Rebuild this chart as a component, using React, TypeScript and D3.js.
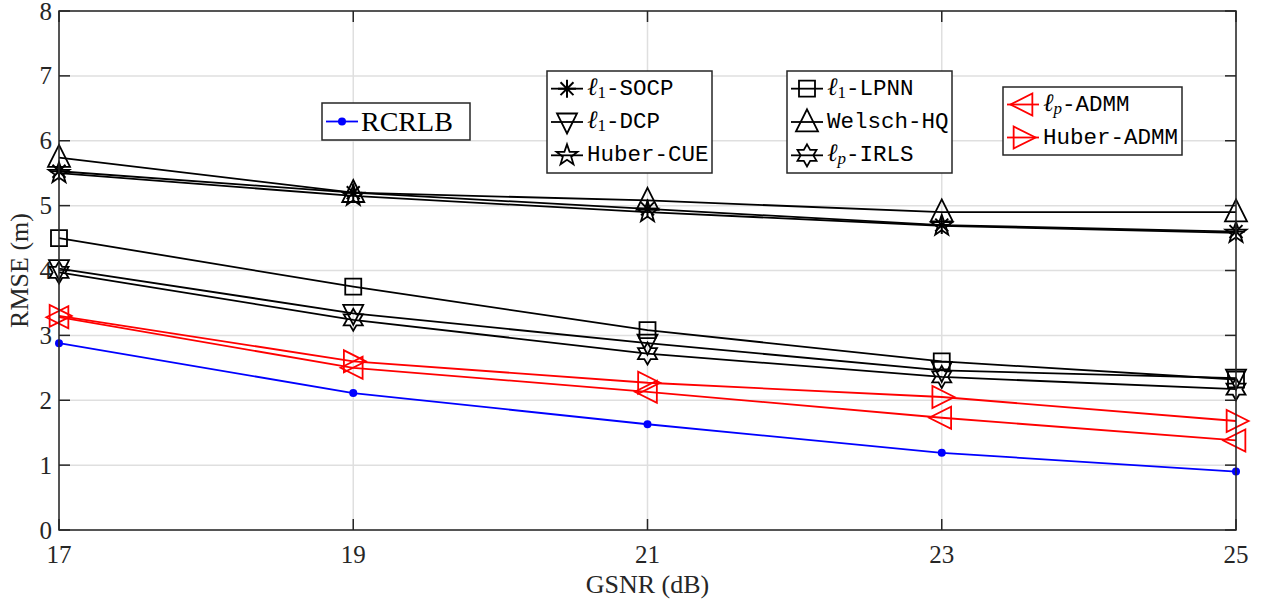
import React from "react";
import * as d3 from "d3";

const W = 1267;
const H = 606;
const margin = { left: 59, right: 31, top: 11, bottom: 76 };

const gsnr = [17, 19, 21, 23, 25];
const yTicks = [0, 1, 2, 3, 4, 5, 6, 7, 8];

const rcrlb = [2.88, 2.11, 1.63, 1.19, 0.9];
const l1Socp = [5.53, 5.2, 4.95, 4.7, 4.6];
const l1Dcp = [4.03, 3.34, 2.88, 2.46, 2.34];
const huberCue = [5.5, 5.15, 4.9, 4.69, 4.58];
const l1Lpnn = [4.5, 3.75, 3.08, 2.6, 2.32];
const welschHq = [5.74, 5.2, 5.08, 4.9, 4.9];
const lpIrls = [3.97, 3.24, 2.72, 2.36, 2.17];
const lpAdmm = [3.28, 2.5, 2.13, 1.73, 1.38];
const huberAdmm = [3.3, 2.6, 2.27, 2.05, 1.68];

// marker path builders, centred at 0,0
const triPath = (dir, s) => {
  const h = s * 0.5;
  if (dir === "up") return `M0,${-h * 1.15}L${h},${h * 0.85}L${-h},${h * 0.85}Z`;
  if (dir === "down") return `M0,${h * 1.15}L${h},${-h * 0.85}L${-h},${-h * 0.85}Z`;
  if (dir === "left") return `M${-h * 1.15},0L${h * 0.85},${-h}L${h * 0.85},${h}Z`;
  return `M${h * 1.15},0L${-h * 0.85},${-h}L${-h * 0.85},${h}Z`;
};
const squarePath = (s) => `M${-s / 2},${-s / 2}h${s}v${s}h${-s}Z`;
const starPath = (n, R, r) => {
  const pts = [];
  for (let i = 0; i < n * 2; i++) {
    const a = -Math.PI / 2 + (i * Math.PI) / n;
    const rr = i % 2 === 0 ? R : r;
    pts.push([rr * Math.cos(a), rr * Math.sin(a)]);
  }
  return "M" + pts.map((p) => p.join(",")).join("L") + "Z";
};
const asteriskPath = (R) => {
  let d = `M${-R},0L${R},0`;
  const a = R * 0.72;
  d += `M${-a},${-a}L${a},${a}M${-a},${a}L${a},${-a}M0,${-R}L0,${R}`;
  return d;
};

const markerD = {
  dot: null,
  asterisk: asteriskPath(9),
  down: triPath("down", 20),
  star5: starPath(5, 11, 4.4),
  square: squarePath(16),
  up: triPath("up", 22),
  hex: starPath(6, 11, 6.35),
  left: triPath("left", 22),
  right: triPath("right", 22),
};

const series = [
  { name: "RCRLB", values: rcrlb, color: "#0000ff", marker: "dot" },
  { name: "l1-SOCP", values: l1Socp, color: "#000", marker: "asterisk" },
  { name: "l1-DCP", values: l1Dcp, color: "#000", marker: "down" },
  { name: "Huber-CUE", values: huberCue, color: "#000", marker: "star5" },
  { name: "l1-LPNN", values: l1Lpnn, color: "#000", marker: "square" },
  { name: "Welsch-HQ", values: welschHq, color: "#000", marker: "up" },
  { name: "lp-IRLS", values: lpIrls, color: "#000", marker: "hex" },
  { name: "lp-ADMM", values: lpAdmm, color: "#ff0000", marker: "left" },
  { name: "Huber-ADMM", values: huberAdmm, color: "#ff0000", marker: "right" },
];

const Marker = ({ type, x, y, color }) => {
  if (type === "dot") return <circle cx={x} cy={y} r={4} fill={color} />;
  return (
    <path
      d={markerD[type]}
      transform={`translate(${x},${y})`}
      fill="none"
      stroke={color}
      strokeWidth={type === "asterisk" ? 2 : 1.8}
      strokeLinejoin="miter"
    />
  );
};

const mono = "'Liberation Mono', 'DejaVu Sans Mono', monospace";
const serif = "'Liberation Serif', 'Times New Roman', serif";

// label: ell prefix with subscript, then mono text
const LegendLabel = ({ x, y, sub, text }) => (
  <text x={x} y={y} fontSize={22.5} dominantBaseline="middle" fill="#000">
    {sub ? (
      <>
        <tspan fontFamily={serif} fontStyle="italic" fontSize={25}>ℓ</tspan>
        <tspan fontFamily={serif} fontStyle={sub === "p" ? "italic" : "normal"} fontSize={17} dy={5}>
          {sub}
        </tspan>
        <tspan fontFamily={mono} dy={-5}>{text}</tspan>
      </>
    ) : (
      <tspan fontFamily={mono}>{text}</tspan>
    )}
  </text>
);

const legends = [
  { box: [322, 103, 148, 37], items: [{ s: 0, label: "RCRLB", serifText: true }] },
  {
    box: [547, 71, 165, 102],
    items: [
      { s: 1, sub: "1", text: "-SOCP" },
      { s: 2, sub: "1", text: "-DCP" },
      { s: 3, text: "Huber-CUE" },
    ],
  },
  {
    box: [787, 71, 165, 102],
    items: [
      { s: 4, sub: "1", text: "-LPNN" },
      { s: 5, text: "Welsch-HQ" },
      { s: 6, sub: "p", text: "-IRLS" },
    ],
  },
  {
    box: [1003, 87, 179, 68],
    items: [
      { s: 7, sub: "p", text: "-ADMM" },
      { s: 8, text: "Huber-ADMM" },
    ],
  },
];

export default function App() {
  const x = d3.scaleLinear().domain([17, 25]).range([margin.left, W - margin.right]);
  const y = d3.scaleLinear().domain([0, 8]).range([H - margin.bottom, margin.top]);
  const line = d3
    .line()
    .x((d, i) => x(gsnr[i]))
    .y((d) => y(d));

  const x0 = x.range()[0];
  const x1 = x.range()[1];
  const y0 = y.range()[0];
  const y1 = y.range()[1];

  return (
    <svg
      width={W}
      height={H}
      style={{ position: "absolute", left: 0, top: 0, background: "#fff" }}
    >
      <rect width={W} height={H} fill="#fff" />
      {/* grid */}
      {gsnr.map((t) => (
        <line key={"gx" + t} x1={x(t)} x2={x(t)} y1={y0} y2={y1} stroke="#dfdfdf" strokeWidth={1.5} />
      ))}
      {yTicks.map((t) => (
        <line key={"gy" + t} x1={x0} x2={x1} y1={y(t)} y2={y(t)} stroke="#dfdfdf" strokeWidth={1.5} />
      ))}

      {/* ticks */}
      {yTicks.map((t) => (
        <g key={"ty" + t}>
          <line x1={x0} x2={x0 + 11} y1={y(t)} y2={y(t)} stroke="#262626" strokeWidth={1.5} />
          <line x1={x1} x2={x1 - 11} y1={y(t)} y2={y(t)} stroke="#262626" strokeWidth={1.5} />
          <text x={x0 - 7} y={y(t)} textAnchor="end" dominantBaseline="central" fontFamily={serif} fontSize={25} fill="#262626">
            {t}
          </text>
        </g>
      ))}
      {gsnr.map((t) => (
        <g key={"tx" + t}>
          <line x1={x(t)} x2={x(t)} y1={y0} y2={y0 - 11} stroke="#262626" strokeWidth={1.5} />
          <line x1={x(t)} x2={x(t)} y1={y1} y2={y1 + 11} stroke="#262626" strokeWidth={1.5} />
          <text x={x(t)} y={y0 + 33} textAnchor="middle" fontFamily={serif} fontSize={25} fill="#262626">
            {t}
          </text>
        </g>
      ))}

      {/* series */}
      {series.map((s) => (
        <g key={s.name}>
          <path d={line(s.values)} fill="none" stroke={s.color} strokeWidth={1.8} />
          {s.values.map((v, i) => (
            <Marker key={i} type={s.marker} x={x(gsnr[i])} y={y(v)} color={s.color} />
          ))}
        </g>
      ))}

      {/* frame */}
      <rect x={x0} y={y1} width={x1 - x0} height={y0 - y1} fill="none" stroke="#262626" strokeWidth={1.5} />

      {/* axis labels */}
      <text x={(x0 + x1) / 2} y={593} textAnchor="middle" fontFamily={serif} fontSize={26} fill="#262626">
        GSNR (dB)
      </text>
      <text
        transform={`translate(28,${(y0 + y1) / 2}) rotate(-90)`}
        textAnchor="middle"
        fontFamily={serif}
        fontSize={26}
        fill="#262626"
      >
        RMSE (m)
      </text>

      {/* legends */}
      {legends.map((lg, li) => {
        const [bx, by, bw, bh] = lg.box;
        const rowH = (bh - 2) / lg.items.length;
        return (
          <g key={"lg" + li}>
            <rect x={bx} y={by} width={bw} height={bh} fill="#fff" stroke="#262626" strokeWidth={1.5} />
            {lg.items.map((it, k) => {
              const s = series[it.s];
              const cy = by + 1 + rowH * (k + 0.5);
              const lx = bx + 4;
              return (
                <g key={k}>
                  <line x1={lx} x2={lx + 32} y1={cy} y2={cy} stroke={s.color} strokeWidth={1.8} />
                  <Marker type={s.marker} x={lx + 16} y={cy} color={s.color} />
                  {it.serifText ? (
                    <text x={lx + 35} y={cy} dominantBaseline="central" fontFamily={serif} fontSize={28} fill="#000">
                      {it.label}
                    </text>
                  ) : (
                    <LegendLabel x={lx + 36} y={cy} sub={it.sub} text={it.text} />
                  )}
                </g>
              );
            })}
          </g>
        );
      })}
    </svg>
  );
}
